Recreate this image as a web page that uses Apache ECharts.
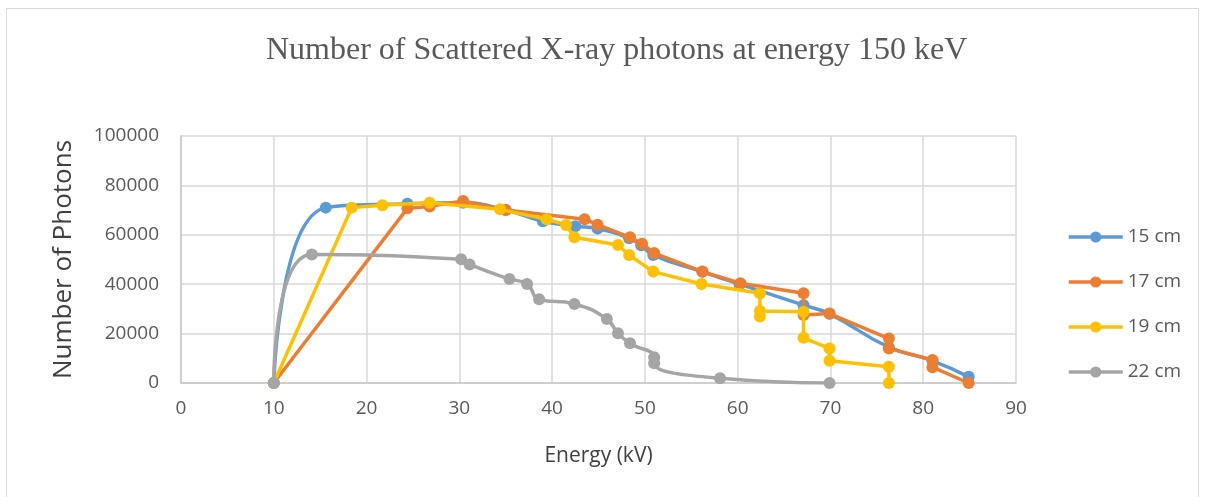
<!DOCTYPE html>
<html>
<head>
<meta charset="utf-8">
<script src="https://cdn.jsdelivr.net/npm/echarts@6/dist/echarts.min.js"></script>
<style>
html,body{margin:0;padding:0;background:#fff;}
#c{width:1206px;height:497px;}
</style>
</head>
<body>
<div id="c"></div>
<script>
var titleText = 'Number of Scattered X-ray photons at energy 150 keV';
var xTicks = [0,10,20,30,40,50,60,70,80,90];
var yTicks = [0,20000,40000,60000,80000,100000];
var seriesNames = ['15 cm','17 cm','19 cm','22 cm'];

var cm15X = [10,15.6,24.4,30.4,35,39,42.5,44.9,48.3,49.6,50.9,56.2,60.2,67.1,69.9,76.3,81,84.9];
var cm15Y = [0,71000,72600,73000,70000,65500,63500,62500,58600,55800,51800,45000,40000,31500,28000,14500,9000,2500];

var cm17X = [10,24.4,26.8,30.4,35,43.5,44.9,48.4,49.7,51,56.2,60.3,67.1,67.1,69.9,76.3,76.3,81,81,84.9];
var cm17Y = [0,70700,71500,73700,70000,66300,64100,59000,56400,52600,45100,40400,36300,27500,28100,18000,14000,9300,6400,0];

var cm19X = [10,18.4,21.7,26.8,34.4,39.4,41.5,42.4,47.1,48.3,50.9,56.1,62.4,62.4,62.4,67.1,67.1,69.9,69.9,76.3,76.3];
var cm19Y = [0,71000,72000,73000,70300,66300,64000,59000,55900,51800,45100,40100,36300,26900,29200,28800,18300,14000,9000,6600,0];

var cm22X = [10,14.1,30.2,31.1,35.4,37.3,38.6,42.4,45.9,47.1,48.4,51,51,58.1,69.9];
var cm22Y = [0,52000,50100,48000,42100,40100,33900,32000,25900,20100,16100,10400,8000,1900,0];

function pairs(xs, ys){ return xs.map(function(x,i){ return [x, ys[i]]; }); }

var colors = ['#5B9BD5','#ED7D31','#FFC000','#A5A5A5'];
var dataSets = [pairs(cm15X,cm15Y), pairs(cm17X,cm17Y), pairs(cm19X,cm19Y), pairs(cm22X,cm22Y)];
var smoothFlags = [0.5, false, false, 0.5];

var font = '"Open Sans", "Liberation Sans", sans-serif';
var chart = echarts.init(document.getElementById('c'), null, {renderer:'canvas'});
var option = {
  animation: false,
  backgroundColor: '#fff',
  color: colors,
  graphic: [{
    type: 'rect', silent: true, z: -10,
    shape: {x: 6.5, y: 8.5, width: 1192, height: 500},
    style: {fill: 'none', stroke: '#d9d9d9', lineWidth: 1}
  }],
  title: {
    text: titleText,
    left: 261, top: 30,
    textStyle: {fontFamily: '"Liberation Serif", "DejaVu Serif", serif', fontWeight: 'normal', fontSize: 32, color: '#595959'}
  },
  legend: {
    orient: 'vertical',
    left: 1062, top: 222,
    itemWidth: 54, itemHeight: 14,
    itemGap: 25,
    data: seriesNames,
    lineStyle: {width: 3.5},
    textStyle: {fontFamily: font, fontSize: 19, color: '#595959', lineHeight: 20, padding: [0,0,0,0]}
  },
  grid: {left: 181, right: 190, top: 136, bottom: 114, containLabel: false},
  xAxis: {
    type: 'value', min: xTicks[0], max: xTicks[xTicks.length-1], interval: 10,
    name: 'Energy (kV)', nameLocation: 'middle', nameGap: 63,
    nameTextStyle: {fontFamily: font, fontSize: 21, color: '#404040'},
    axisLine: {show: true, lineStyle: {color: '#c8c8c8', width: 1.5}},
    axisTick: {show: false},
    axisLabel: {fontFamily: font, fontSize: 19, color: '#595959', margin: 16},
    splitLine: {show: true, lineStyle: {color: '#d9d9d9', width: 1.5}}
  },
  yAxis: {
    type: 'value', min: yTicks[0], max: yTicks[yTicks.length-1], interval: 20000,
    name: 'Number of Photons', nameLocation: 'middle', nameGap: 104,
    nameTextStyle: {fontFamily: font, fontSize: 26, color: '#404040'},
    axisLine: {show: true, lineStyle: {color: '#c8c8c8', width: 1.5}},
    axisTick: {show: false},
    axisLabel: {fontFamily: font, fontSize: 19, color: '#595959', margin: 22,
      formatter: function(v){ return String(v); }},
    splitLine: {show: true, lineStyle: {color: '#d9d9d9', width: 1.5}}
  },
  series: seriesNames.map(function(n, i){
    return {
      name: n, type: 'line',
      data: dataSets[i],
      smooth: smoothFlags[i],
      symbol: 'circle', symbolSize: 12,
      showSymbol: true,
      lineStyle: {width: 3.5, color: colors[i]},
      itemStyle: {color: colors[i]},
      z: 2 + i
    };
  })
};
chart.setOption(option);
</script>
</body>
</html>
